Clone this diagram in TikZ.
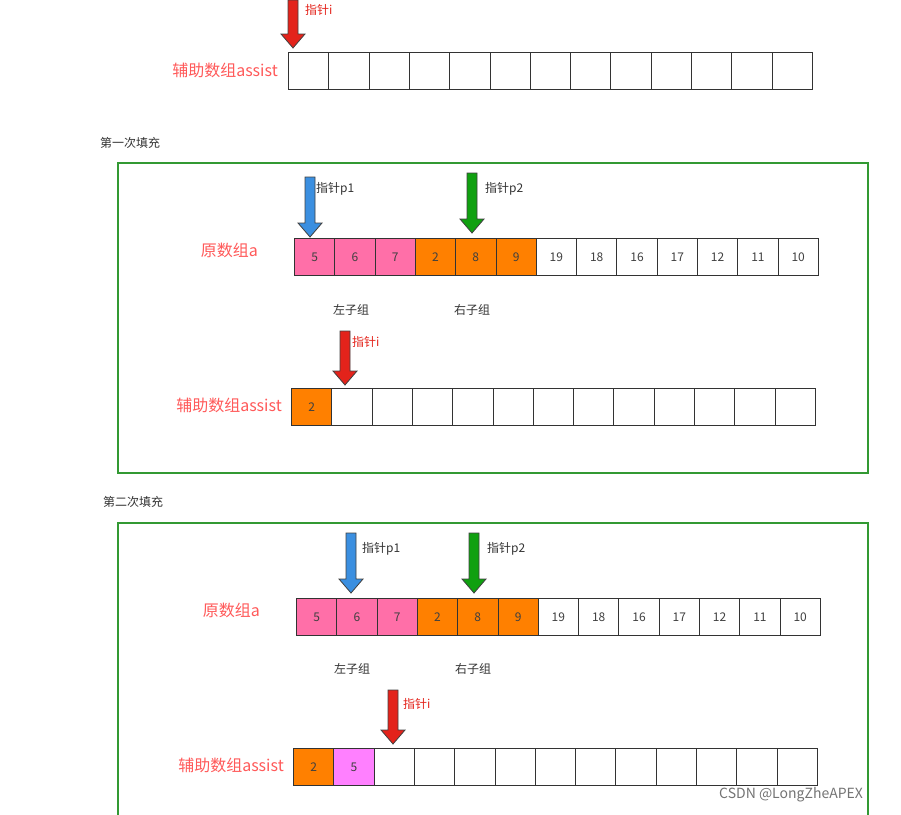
\documentclass[tikz,border=0pt]{standalone}
\usepackage{fontspec}
\setmainfont{Noto Sans CJK SC}
\begin{document}
\begin{tikzpicture}[x=1pt,y=-1pt,
  cell/.style={draw=black!80,line width=0.9pt,minimum width=40.3pt,minimum height=37pt,inner sep=0pt,anchor=north west,font=\fontsize{12}{12}\selectfont,text=black!75},
  lbl/.style={font=\fontsize{12}{12}\selectfont,text=black!80,anchor=west,inner sep=0pt},
  rlbl/.style={font=\fontsize{16}{16}\selectfont,text=red!65!white,anchor=east,inner sep=0pt},
  plbl/.style={font=\fontsize{12}{12}\selectfont,anchor=west,inner sep=0pt},
  gbox/.style={draw=green!50!black!80,line width=1.2pt}]
\definecolor{pk}{HTML}{FF6FA8}
\definecolor{og}{HTML}{FF8000}
\definecolor{vi}{HTML}{FF80FF}
\definecolor{ar}{HTML}{E3231B}
\definecolor{ab}{HTML}{3B8FE0}
\definecolor{ag}{HTML}{10A010}
\useasboundingbox (0,0) rectangle (901,814);
\newcommand\blockarrow[4]{%
  \filldraw[fill=#4,draw=black!75,line width=0.8pt,line join=miter]
   (#1-5,#2) -- (#1+5,#2) -- (#1+5,#3-14) -- (#1+12,#3-14) -- (#1,#3) -- (#1-12,#3-14) -- (#1-5,#3-14) -- cycle;}
\newcommand\arr[4]{% x, y, name, list
  \foreach \v/\c [count=\i from 0] in {#4} {
    \node[cell,fill=\c] (#3\i) at (#1+\i*40.3,#2) {\v};}}
% top
\blockarrow{293}{0}{48}{ar}
\node[plbl,text=ar] (ti) at (305,10) {指针i};
\node[rlbl] (ta) at (278,70) {辅助数组assist};
\arr{288}{52}{t}{/white,/white,/white,/white,/white,/white,/white,/white,/white,/white,/white,/white,/white}
% first
\node[lbl] (f1) at (100,143) {第一次填充};
\draw[gbox] (118,163) rectangle (868,473);
\blockarrow{310}{177}{237}{ab}
\node[plbl,text=black!80] (p1a) at (316,189) {指针p1};
\blockarrow{472}{173}{233}{ag}
\node[plbl,text=black!80] (p2a) at (485,189) {指针p2};
\node[rlbl] (oa) at (258,250) {原数组a};
\arr{294}{238}{a}{5/pk,6/pk,7/pk,2/og,8/og,9/og,19/white,18/white,16/white,17/white,12/white,11/white,10/white}
\node[lbl] (l1) at (333,310) {左子组};
\node[lbl] (r1) at (454,310) {右子组};
\blockarrow{345}{331}{385}{ar}
\node[plbl,text=ar] (i1) at (352,342) {指针i};
\node[rlbl] (b1) at (282,405) {辅助数组assist};
\arr{291}{388}{b}{2/og,/white,/white,/white,/white,/white,/white,/white,/white,/white,/white,/white,/white}
% second
\node[lbl] (f2) at (103,502) {第二次填充};
\draw[gbox] (118,830) -- (118,523) -- (868,523) -- (868,830);
\blockarrow{351}{533}{593}{ab}
\node[plbl,text=black!80] (p1b) at (362,549) {指针p1};
\blockarrow{474}{533}{593}{ag}
\node[plbl,text=black!80] (p2b) at (487,549) {指针p2};
\node[rlbl] (ob) at (260,610) {原数组a};
\arr{296}{598}{c}{5/pk,6/pk,7/pk,2/og,8/og,9/og,19/white,18/white,16/white,17/white,12/white,11/white,10/white}
\node[lbl] (l2) at (334,669) {左子组};
\node[lbl] (r2) at (455,669) {右子组};
\blockarrow{393}{690}{744}{ar}
\node[plbl,text=ar] (i2) at (403,704) {指针i};
\node[rlbl] (b2) at (284,765) {辅助数组assist};
\arr{293}{748}{d}{2/og,5/vi,/white,/white,/white,/white,/white,/white,/white,/white,/white,/white,/white}
\node[plbl,text=black!55,font=\fontsize{14}{14}\selectfont] (wm) at (719,795) {CSDN @LongZheAPEX};
\end{tikzpicture}
\end{document}
